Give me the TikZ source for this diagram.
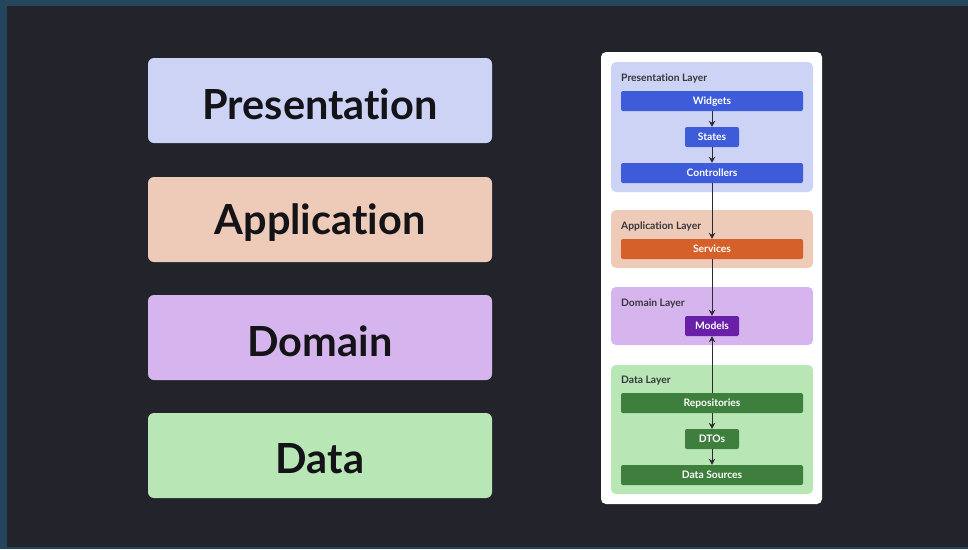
\documentclass[tikz,border=0pt]{standalone}
\usepackage{fontspec}
\setmainfont{Lato}[Ligatures={NoCommon}]
\usetikzlibrary{arrows.meta}
\definecolor{frame}{HTML}{23465C}
\definecolor{bg}{HTML}{23232B}
\definecolor{presL}{HTML}{CDD3F5}
\definecolor{appL}{HTML}{EECAB8}
\definecolor{domL}{HTML}{D6B4EE}
\definecolor{dataL}{HTML}{B8E6B4}
\definecolor{presD}{HTML}{3E5BDA}
\definecolor{appD}{HTML}{D6602A}
\definecolor{domD}{HTML}{6A1FA8}
\definecolor{dataD}{HTML}{3F7F3D}
\definecolor{ink}{HTML}{141418}
\definecolor{wire}{HTML}{2C2C30}
\tikzset{
  bigbox/.style={fill=#1, rounded corners=6pt, minimum width=344pt, minimum height=85pt,
    inner sep=0pt},
  bigtext/.style={inner sep=0pt, text=ink, font=\bfseries\fontsize{41.5}{44}\selectfont},
  layerbox/.style={fill=#1, rounded corners=5pt, minimum width=202pt, inner sep=0pt},
  layertitle/.style={anchor=west, inner sep=0pt, text height=7.4pt, text depth=0pt,
    text=ink!85, font=\bfseries\fontsize{10.3}{12}\selectfont},
  widebox/.style={fill=#1, rounded corners=2pt, minimum width=182pt, minimum height=20pt,
    inner sep=0pt, text height=7.4pt, text depth=0pt, text=white,
    font=\bfseries\fontsize{10.3}{12}\selectfont},
  smallbox/.style={widebox=#1, minimum width=54pt},
  flow/.style={draw=wire, line width=0.8pt, -{Stealth[length=6pt,width=6.5pt]}}
}
\begin{document}
\begin{tikzpicture}[x=1pt,y=-1pt]
  % frame and dark backdrop
  \fill[frame] (0,0) rectangle (968,549);
  \fill[bg] (7,6) rectangle (968,547);
  \useasboundingbox (0,0) rectangle (968,549);

  % left column: the four layers
  \node[bigbox=presL] (pres) at (320,100.5) {};
  \node[bigbox=appL]  (app)  at (320,219.5) {};
  \node[bigbox=domL]  (dom)  at (320,337.5) {};
  \node[bigbox=dataL] (data) at (320,455.5) {};
  \node[bigtext] (presText) at (320,104) {Presentation};
  \node[bigtext] (appText)  at (320,223) {Application};
  \node[bigtext] (domText)  at (320,341) {Domain};
  \node[bigtext] (dataText) at (320,459) {Data};

  % right column: detailed card
  \node[fill=white, rounded corners=5pt, minimum width=221pt, minimum height=452pt, inner sep=0pt]
    (card) at (711.5,278) {};

  \node[layerbox=presL, minimum height=130pt] (presLayer) at (712,127) {};
  \node[layerbox=appL,  minimum height=58pt]  (appLayer)  at (712,239) {};
  \node[layerbox=domL,  minimum height=58pt]  (domLayer)  at (712,316) {};
  \node[layerbox=dataL, minimum height=129pt] (dataLayer) at (712,429.5) {};

  \node[layertitle] (presTitle) at (621,78)  {Presentation Layer};
  \node[layertitle] (appTitle)  at (621,226) {Application Layer};
  \node[layertitle] (domTitle)  at (621,303) {Domain Layer};
  \node[layertitle] (dataTitle) at (621,380) {Data Layer};

  \node[widebox=presD]  (widgets)     at (712,101) {Widgets};
  \node[smallbox=presD] (states)      at (712,137) {States};
  \node[widebox=presD]  (controllers) at (712,173) {Controllers};
  \node[widebox=appD]   (services)    at (712,249) {Services};
  \node[smallbox=domD]  (models)      at (712,326) {Models};
  \node[widebox=dataD]  (repos)       at (712,403) {Repositories};
  \node[smallbox=dataD] (dtos)        at (712,439) {DTOs};
  \node[widebox=dataD]  (sources)     at (712,475) {Data Sources};

  % dependency arrows
  \draw[flow] (widgets) -- (states);
  \draw[flow] (states) -- (controllers);
  \draw[flow] (controllers) -- (services);
  \draw[flow] (services) -- (models);
  \draw[flow] (repos) -- (models);
  \draw[flow] (repos) -- (dtos);
  \draw[flow] (dtos) -- (sources);
\end{tikzpicture}
\end{document}
